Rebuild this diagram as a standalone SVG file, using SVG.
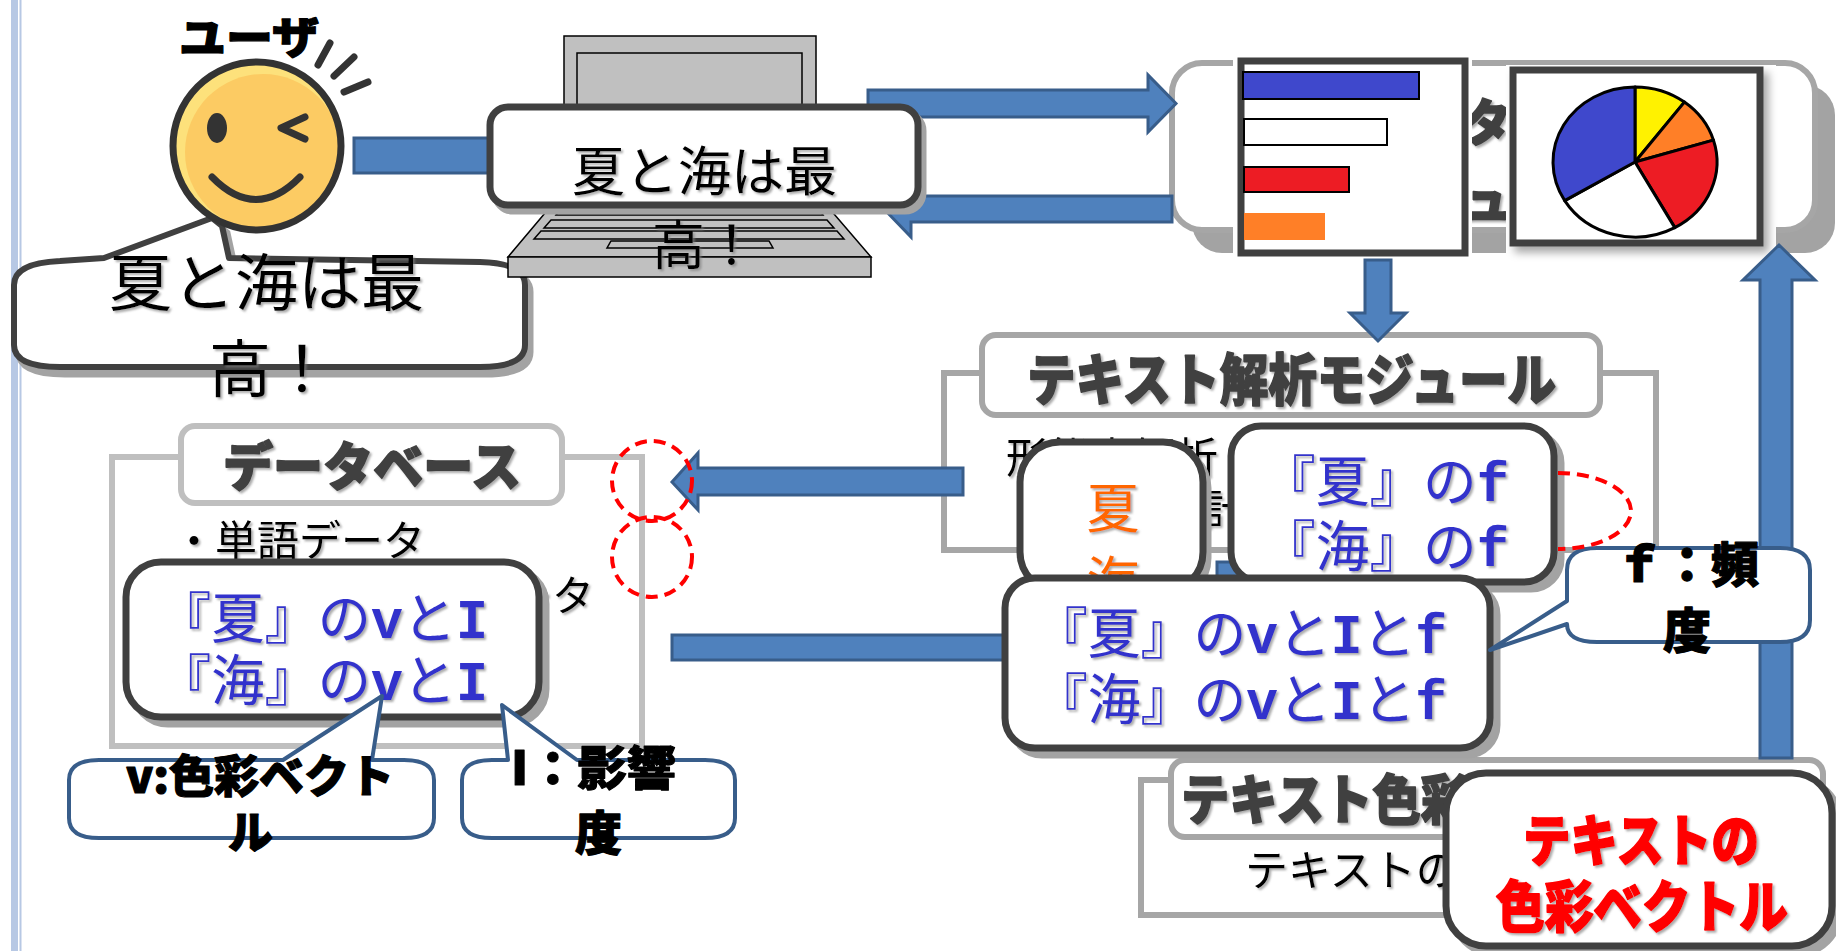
<svg xmlns="http://www.w3.org/2000/svg" width="1836" height="951" viewBox="0 0 1836 951">
<defs>
<style>
text{font-family:'Noto Sans CJK JP','Noto Sans CJK SC',sans-serif}
.arr{fill:#4f81bd;stroke:#385d8a;stroke-width:3}
.box{fill:#fff;stroke:#404040;stroke-width:7}
.shd{fill:#a3a3a3;stroke:#a3a3a3;stroke-width:7}
.gbox{fill:#fff;stroke:#a6a6a6;stroke-width:6}
.lbox{fill:#fff;stroke:#bfbfbf;stroke-width:6}
.call{fill:#fff;stroke:#385d8a;stroke-width:4;stroke-linejoin:round}
.ttl{font-weight:900;fill:#404040;stroke:#404040;stroke-width:1.6;stroke-linejoin:round}
.blk{font-weight:900;fill:#000;stroke:#000;stroke-width:1.2;stroke-linejoin:round}
.reg{fill:#000}
.blue{fill:#3333cc}
.mono{font-family:'Liberation Mono',monospace;font-weight:bold}
.red{fill:#ff0000;font-weight:900;stroke:#ff0000;stroke-width:1.6;stroke-linejoin:round}
.dash{fill:none;stroke:#ff0000;stroke-width:4;stroke-dasharray:12 7}
.sh{filter:url(#tsh)}
.pc{stroke:#000;stroke-width:3;stroke-linejoin:round}
.ln{stroke:#333;stroke-width:7;stroke-linecap:round;fill:none;stroke-linejoin:round}
.kb{fill:#c0c0c0;stroke:#000;stroke-width:1.5}
</style>
<filter id="tsh" x="-10%" y="-20%" width="125%" height="150%">
<feDropShadow dx="2" dy="2" stdDeviation="0.8" flood-color="#7f7f7f" flood-opacity="0.65"/>
</filter>
<filter id="soft" x="-10%" y="-10%" width="130%" height="130%">
<feDropShadow dx="5" dy="6" stdDeviation="4" flood-color="#000" flood-opacity="0.35"/>
</filter>
</defs>
<rect width="1836" height="951" fill="#fff"/>

<!-- page edge rule -->
<g id="frame">
<rect x="11" y="0" width="7" height="951" fill="#b7c8e4"/>
<rect x="19.5" y="0" width="2" height="951" fill="#b7c8e4"/>
</g>

<!-- visualisation module with the two chart thumbnails -->
<g id="viz-module">
<rect x="1192" y="85" width="643" height="168" rx="30" fill="#a3a3a3"/>
<rect x="1172" y="63" width="643" height="167" rx="30" class="gbox" stroke-width="8"/>
<text x="1462" y="141" font-size="50" class="ttl sh">タ</text>
<text x="1462" y="218" font-size="50" class="ttl sh">ュ</text>
<g id="bar-chart">
<rect x="1233" y="57" width="239" height="203" fill="#fff"/>
<rect x="1241" y="61" width="224" height="192" fill="#fff" stroke="#404040" stroke-width="7"/>
<rect x="1243" y="72" width="176" height="27" fill="#3f48cc" stroke="#000" stroke-width="2"/>
<rect x="1244" y="119" width="143" height="26" fill="#fff" stroke="#000" stroke-width="2"/>
<rect x="1244" y="167" width="105" height="25" fill="#ed1c24" stroke="#000" stroke-width="2"/>
<rect x="1244" y="213" width="81" height="27" fill="#ff7f27"/>
</g>
<g id="pie-chart">
<rect x="1506" y="65" width="270" height="195" fill="#fff"/>
<rect x="1513" y="70" width="247" height="173" fill="#fff" stroke="#404040" stroke-width="7" filter="url(#soft)"/>
<path class="pc" fill="#fff200" d="M1635,162 L1635,87 A82,75 0 0 1 1684.4,102.1 Z"/>
<path class="pc" fill="#ff7f27" d="M1635,162 L1684.4,102.1 A82,75 0 0 1 1713.4,140.1 Z"/>
<path class="pc" fill="#ed1c24" d="M1635,162 L1713.4,140.1 A82,75 0 0 1 1674.8,227.6 Z"/>
<path class="pc" fill="#fff" d="M1635,162 L1674.8,227.6 A82,75 0 0 1 1564.7,200.6 Z"/>
<path class="pc" fill="#3f48cc" d="M1635,162 L1564.7,200.6 A82,75 0 0 1 1635,87 Z"/>
</g>
</g>

<!-- text analysis module frame -->
<g id="analysis-module">
<rect x="944" y="373" width="712" height="177" class="gbox"/>
<rect x="982" y="335" width="618" height="80" rx="14" class="gbox"/>
<text x="1027" y="400" font-size="56" class="ttl sh" textLength="529" lengthAdjust="spacingAndGlyphs">テキスト解析モジュール</text>
<text x="1006" y="473" font-size="42" class="reg sh" textLength="212" lengthAdjust="spacingAndGlyphs">形態素解析</text>
<text x="1204" y="525" font-size="42" class="reg sh">計</text>
</g>

<!-- database frame -->
<g id="database">
<rect x="112" y="457" width="530" height="289" class="lbox"/>
<rect x="181" y="426" width="381" height="77" rx="14" class="lbox"/>
<text x="223" y="486" font-size="52" class="ttl sh" textLength="298" lengthAdjust="spacingAndGlyphs">データベース</text>
<text x="173" y="556" font-size="42" class="reg sh" textLength="252" lengthAdjust="spacingAndGlyphs">・単語データ</text>
<text x="510" y="611" font-size="42" class="reg sh">ータ</text>
</g>

<!-- text colour module frame -->
<g id="color-module">
<rect x="1141" y="780" width="400" height="135" class="gbox"/>
<rect x="1171" y="760" width="652" height="77" rx="14" class="gbox"/>
<text x="1181" y="820" font-size="54" class="ttl sh" textLength="288" lengthAdjust="spacingAndGlyphs">テキスト色彩</text>
<text x="1245" y="886" font-size="43" class="reg sh">テキストの</text>
</g>

<!-- user speech balloon -->
<g id="user-balloon">
<path class="shd" transform="translate(5,7)" d="M60,261 L104,258 L212,218 L222,226 L229,258 L480,262 Q525,263 525,285 L525,345 Q525,367 480,367 L60,367 Q14,367 14,345 L14,285 Q14,263 60,261 Z"/>
<path fill="#fff" stroke="#404040" stroke-width="6" stroke-linejoin="round" d="M60,261 L104,258 L212,218 L222,226 L229,258 L480,262 Q525,263 525,285 L525,345 Q525,367 480,367 L60,367 Q14,367 14,345 L14,285 Q14,263 60,261 Z"/>
</g>

<!-- user face -->
<g id="user">
<circle cx="257" cy="146" r="84" fill="#fde17b"/>
<circle cx="263" cy="152" r="78" fill="#fccb63"/>
<circle cx="257" cy="146" r="84" fill="none" stroke="#333" stroke-width="7"/>
<ellipse cx="217" cy="128" rx="10" ry="15" fill="#333"/>
<polyline class="ln" points="305,117 281,128 305,139"/>
<path class="ln" d="M212,177 Q256,222 300,177"/>
<line class="ln" x1="318" y1="65" x2="330" y2="43"/>
<line class="ln" x1="334" y1="76" x2="354" y2="57"/>
<line class="ln" x1="344" y1="92" x2="368" y2="82"/>
<text x="179" y="54" font-size="44" class="blk" textLength="140" lengthAdjust="spacingAndGlyphs">ユーザ</text>
<text x="109" y="306" font-size="62" class="reg sh" textLength="315" lengthAdjust="spacingAndGlyphs">夏と海は最</text>
<text x="209" y="392" font-size="62" class="reg sh">高！</text>
</g>

<!-- laptop body -->
<g id="laptop">
<rect x="564" y="36" width="252" height="100" class="kb"/>
<rect x="577" y="53" width="225" height="83" class="kb"/>
<polygon class="kb" points="556,200 822,200 871,257 508,257"/>
<polygon class="kb" fill="#a8a8a8" points="562,207 817,207 823,215 556,215"/>
<polygon class="kb" points="551,220 827,220 834,228 544,228"/>
<polygon class="kb" points="541,231 837,231 844,239 534,239"/>
<polygon class="kb" points="611,241 769,241 773,248 607,248"/>
<rect x="508" y="257" width="363" height="20" class="kb"/>
</g>

<!-- flow connectors -->
<g id="connectors">
<rect class="arr" x="354" y="138" width="140" height="35"/>
<polygon class="arr" points="868,90 1148,90 1148,75 1176,103.5 1148,132 1148,117 868,117"/>
<polygon class="arr" points="1172,196 911,196 911,181 884,209 911,237 911,222 1172,222"/>
<polygon class="arr" points="1365,260 1391,260 1391,313 1406,313 1378,341 1350,313 1365,313"/>
<polygon class="arr" points="1760,758 1760,280 1743,280 1779,245 1815,280 1792,280 1792,758"/>
<polygon class="arr" points="963,468 698,468 698,453 672,482 698,510 698,495 963,495"/>
<rect class="arr" x="672" y="635" width="340" height="25"/>
<rect class="arr" x="1217" y="562" width="40" height="30"/>
</g>

<!-- laptop screen text box -->
<g id="input-box">
<rect x="495" y="113" width="428" height="98" rx="18" class="shd"/>
<rect x="490" y="107" width="428" height="98" rx="18" class="box"/>
<text x="572" y="191" font-size="53" class="reg sh" textLength="265" lengthAdjust="spacingAndGlyphs">夏と海は最</text>
<text x="652" y="265" font-size="53" class="reg sh">高！</text>
</g>

<!-- v and I per word -->
<g id="word-vi">
<rect x="133" y="569" width="413" height="155" rx="35" class="shd"/>
<rect x="126" y="562" width="413" height="155" rx="35" class="box"/>
<text x="158" y="638" font-size="55" class="blue sh" textLength="330" lengthAdjust="spacingAndGlyphs">『夏』の<tspan class="mono">v</tspan>と<tspan class="mono">I</tspan></text>
<text x="158" y="700" font-size="55" class="blue sh" textLength="330" lengthAdjust="spacingAndGlyphs">『海』の<tspan class="mono">v</tspan>と<tspan class="mono">I</tspan></text>
</g>

<!-- legend callouts -->
<g id="callout-v">
<path class="call" d="M99,760 L283,760 L382,696 L372,760 L404,760 Q434,760 434,780 L434,818 Q434,838 404,838 L99,838 Q69,838 69,818 L69,780 Q69,760 99,760 Z"/>
<text x="126" y="793" font-size="45" class="blk" textLength="268" lengthAdjust="spacingAndGlyphs">v:色彩ベクト</text>
<text x="228" y="849" font-size="45" class="blk">ル</text>
</g>
<g id="callout-i">
<path class="call" d="M492,760 L508,760 L502,705 L577,760 L705,760 Q735,760 735,780 L735,818 Q735,838 705,838 L492,838 Q462,838 462,818 L462,780 Q462,760 492,760 Z"/>
<text x="511" y="785" font-size="47" class="blk" textLength="165" lengthAdjust="spacingAndGlyphs">I：影響</text>
<text x="575" y="850" font-size="47" class="blk">度</text>
</g>

<!-- extracted words -->
<g id="words">
<rect x="1025" y="448" width="183" height="150" rx="40" class="shd"/>
<rect x="1020" y="442" width="183" height="150" rx="40" class="box"/>
<text x="1113" y="528" font-size="53" fill="#ff6600" text-anchor="middle" class="sh">夏</text>
<text x="1113" y="601" font-size="53" fill="#ff6600" text-anchor="middle" class="sh">海</text>
</g>

<!-- word frequencies -->
<g id="word-freq">
<rect x="1238" y="433" width="323" height="156" rx="30" class="shd"/>
<rect x="1231" y="426" width="323" height="156" rx="30" class="box"/>
<text x="1262" y="501" font-size="55" class="blue sh" textLength="247" lengthAdjust="spacingAndGlyphs">『夏』の<tspan class="mono">f</tspan></text>
<text x="1262" y="566" font-size="55" class="blue sh" textLength="247" lengthAdjust="spacingAndGlyphs">『海』の<tspan class="mono">f</tspan></text>
</g>

<!-- combined v, I and f -->
<g id="word-vif">
<rect x="1012" y="585" width="485" height="170" rx="30" class="shd"/>
<rect x="1005" y="578" width="485" height="170" rx="30" class="box"/>
<text x="1035" y="653" font-size="55" class="blue sh" textLength="412" lengthAdjust="spacingAndGlyphs">『夏』の<tspan class="mono">v</tspan>と<tspan class="mono">I</tspan>と<tspan class="mono">f</tspan></text>
<text x="1035" y="719" font-size="55" class="blue sh" textLength="412" lengthAdjust="spacingAndGlyphs">『海』の<tspan class="mono">v</tspan>と<tspan class="mono">I</tspan>と<tspan class="mono">f</tspan></text>
</g>

<g id="callout-f">
<path class="call" d="M1597,548 L1780,548 Q1810,548 1810,570 L1810,620 Q1810,642 1780,642 L1597,642 Q1567,642 1567,624 L1490,650 L1567,601 L1567,570 Q1567,548 1597,548 Z"/>
<text x="1615" y="582" font-size="48" class="blk" textLength="144" lengthAdjust="spacingAndGlyphs">ｆ：頻</text>
<text x="1663" y="648" font-size="48" class="blk">度</text>
</g>

<!-- result: colour vector of the text -->
<g id="text-vector">
<rect x="1453" y="780" width="386" height="173" rx="40" class="shd"/>
<rect x="1446" y="773" width="386" height="173" rx="40" class="box" stroke-width="8"/>
<text x="1523" y="861" font-size="56" class="red sh" textLength="236" lengthAdjust="spacingAndGlyphs">テキストの</text>
<text x="1496" y="927" font-size="56" class="red sh" textLength="292" lengthAdjust="spacingAndGlyphs">色彩ベクトル</text>
</g>

<!-- dashed highlight marks -->
<g id="marks">
<circle cx="652" cy="481" r="40" class="dash"/>
<circle cx="652" cy="557" r="40" class="dash"/>
<path class="dash" d="M1558,473 A73,38 0 0 1 1558,549"/>
</g>
</svg>
